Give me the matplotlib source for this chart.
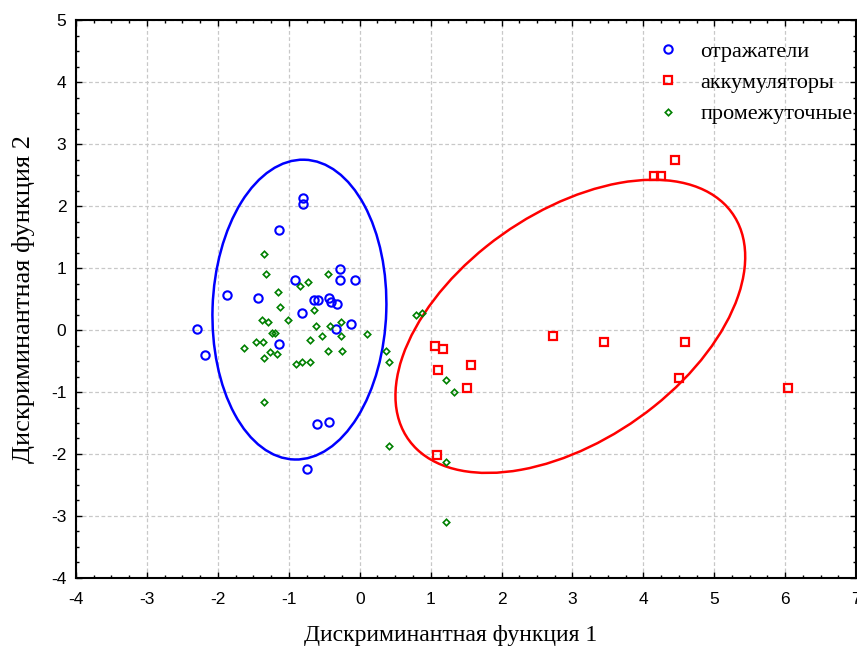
#!/usr/bin/env python3
# -*- coding: utf-8 -*-

import matplotlib
matplotlib.use('Agg')
import matplotlib.pyplot as plt
from matplotlib.patches import Ellipse
from matplotlib.ticker import MultipleLocator

# Обычный дефис вместо длинного минуса в подписях осей
plt.rcParams['axes.unicode_minus'] = False

# Значения дискриминантных функций по группам
refl_x = [-0.80, -0.80, -1.14, -0.28, -0.28, -0.06, -0.91, -1.87, -1.44, -0.64,
          -0.59, -0.43, -0.40, -0.32, -0.82, -0.12, -0.34, -2.29, -2.18, -1.14,
          -0.60, -0.43, -0.74]
refl_y = [2.13, 2.04, 1.62, 0.98, 0.81, 0.81, 0.81, 0.56, 0.52, 0.49,
          0.49, 0.52, 0.46, 0.42, 0.27, 0.10, 0.01, 0.01, -0.41, -0.22,
          -1.51, -1.48, -2.25]

acc_x = [1.06, 1.18, 1.11, 1.57, 1.51, 1.09, 4.44, 4.15, 4.25, 2.72,
         3.45, 4.58, 4.50, 6.04]
acc_y = [-0.25, -0.31, -0.64, -0.57, -0.93, -2.02, 2.75, 2.49, 2.49, -0.09,
         -0.19, -0.19, -0.77, -0.93]

mid_x = [-1.35, -1.32, -0.45, -0.73, -0.84, -1.15, -1.13, -0.65, -1.38, -1.29,
         -1.01, -0.62, -0.42, -0.27, 0.11, -1.23, -1.20, -0.53, -0.27, -0.70,
         -1.46, -1.37, -1.63, -0.45, -0.25, -1.26, -1.17, -1.35, -0.90, -0.81,
         -0.70, -1.35, 0.37, 0.42, 0.42, 0.79, 0.88, 1.21, 1.33, 1.21, 1.21]
mid_y = [1.22, 0.90, 0.90, 0.77, 0.71, 0.61, 0.38, 0.32, 0.16, 0.13,
         0.16, 0.06, 0.06, 0.13, -0.07, -0.05, -0.04, -0.10, -0.10, -0.16,
         -0.20, -0.20, -0.29, -0.33, -0.33, -0.36, -0.39, -0.45, -0.55, -0.52,
         -0.52, -1.16, -0.33, -0.52, -1.87, 0.25, 0.28, -0.81, -1.00, -2.13,
         -3.10]

# Эллипсы рассеяния: центр, ширина, высота, угол
refl_ell = ((-0.85, 0.33), 4.84, 2.45, 88.4)
acc_ell = ((2.97, 0.06), 5.87, 3.50, 42.5)

fig = plt.figure(figsize=(8.57, 6.53), dpi=100)
ax = fig.add_axes([0.0887, 0.115, 0.9103, 0.854])

ax.plot(refl_x, refl_y, 'o', color='blue', mfc='none', ms=6, mew=1.5,
        label='отражатели')
ax.plot(acc_x, acc_y, 's', color='red', mfc='none', ms=6, mew=1.6,
        label='аккумуляторы')
ax.plot(mid_x, mid_y, 'D', color='green', mfc='none', ms=3.3, mew=1.2,
        label='промежуточные')

for (c, w, h, a), col in [(refl_ell, 'blue'), (acc_ell, 'red')]:
    ax.add_patch(Ellipse(c, w, h, angle=a, fill=False, ec=col, lw=1.8))

ax.set_xlim(-4, 7)
ax.set_ylim(-4, 5)
ax.xaxis.set_major_locator(MultipleLocator(1))
ax.yaxis.set_major_locator(MultipleLocator(1))
ax.xaxis.set_minor_locator(MultipleLocator(0.25))
ax.yaxis.set_minor_locator(MultipleLocator(0.25))
ax.tick_params(which='both', direction='in', top=True, right=True, width=1)
ax.tick_params(which='major', length=4)
ax.tick_params(which='minor', length=2.5)
ax.tick_params(axis='x', pad=10)
ax.tick_params(axis='y', pad=7)
for lab in ax.get_xticklabels() + ax.get_yticklabels():
    lab.set_family('Liberation Sans')
    lab.set_fontsize(12.5)

for sp in ax.spines.values():
    sp.set_linewidth(1.5)

ax.grid(True, which='major', color='#c8c8c8', linestyle=(0, (3, 2)), lw=0.9)
ax.set_axisbelow(True)

ax.set_xlabel('Дискриминантная функция 1', family='Liberation Serif', fontsize=17)
ax.set_ylabel('Дискриминантная функция 2', family='Liberation Serif', fontsize=19)
ax.xaxis.set_label_coords(0.48, -0.085)
ax.yaxis.set_label_coords(-0.052, 0.5)

# Легенда без рамки, правый край подписи уходит за границу рисунка
ax.legend(loc='upper left', frameon=False,
          prop={'family': 'Liberation Serif', 'size': 16},
          handletextpad=0.95, borderaxespad=0, borderpad=0, labelspacing=0.48,
          handlelength=1.0, bbox_to_anchor=(0.745, 0.962))

fig.savefig('out.png', dpi=100)
